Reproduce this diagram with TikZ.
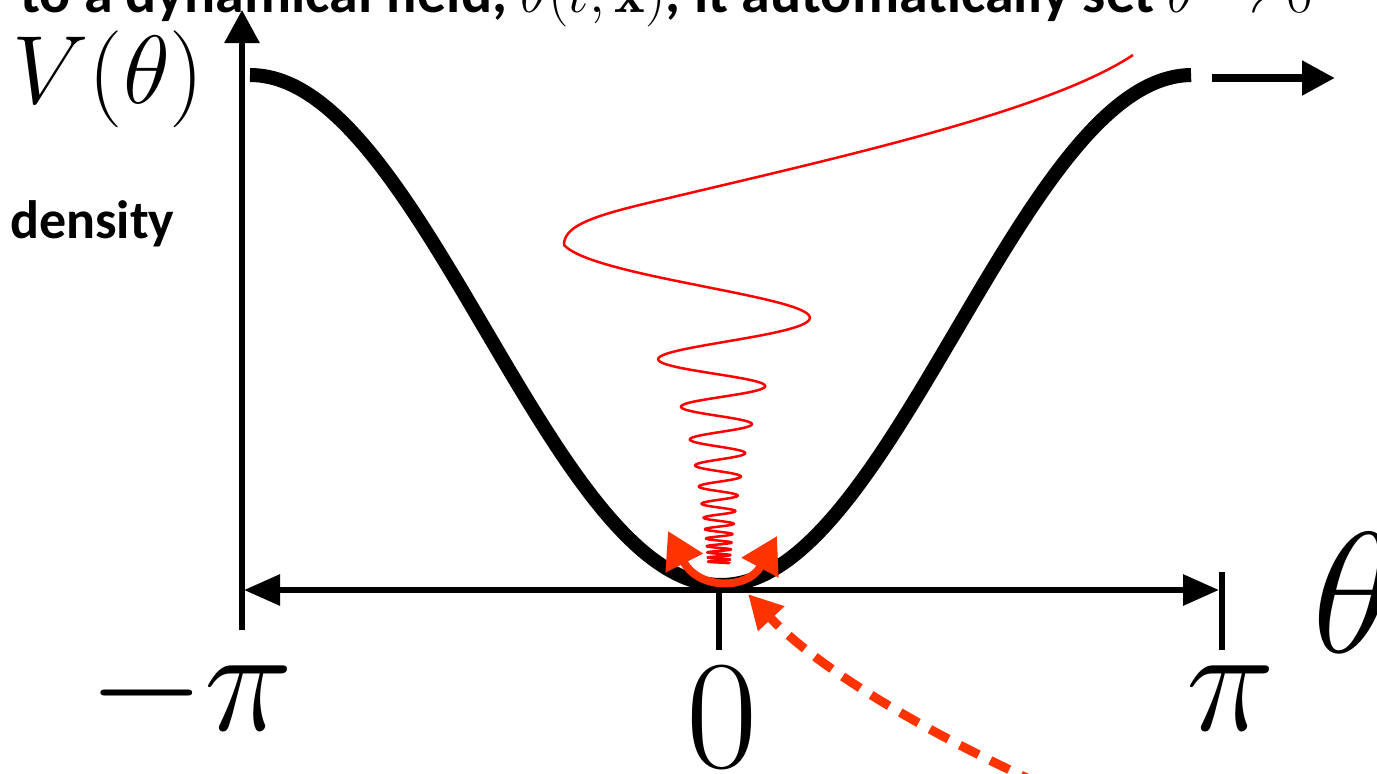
\RequirePackage{fix-cm}
\documentclass[tikz,border=0pt]{standalone}
\usepackage{fontspec}
\newfontfamily\calib{Carlito}
\usetikzlibrary{arrows.meta}
\definecolor{wavered}{RGB}{255,0,0}
\definecolor{arrred}{RGB}{255,51,0}
\tikzset{
  axisline/.style={line width=6pt, black},
  potcurve/.style={line width=14pt, black},
  wavestyle/.style={line width=2.5pt, wavered, line join=round},
  orarrow/.style={arrred, line width=8pt},
  lbl/.style={inner sep=0pt, anchor=base west},
}
\begin{document}
\begin{tikzpicture}[x=1pt,y=-1pt]
\useasboundingbox (0,0) rectangle (1377,774);
\clip (0,0) rectangle (1377,774);

% cut-off heading line
\node[lbl, font=\calib\bfseries\fontsize{58}{60}\selectfont] (topline) at (20,12)
  {to a dynamical field, $\theta(t,\mathbf{x})$, it automatically set $\theta\to0$};

% coordinates
\coordinate (yB) at (242,630);
\coordinate (yT) at (242,10);
\coordinate (xL) at (244,590);
\coordinate (xR) at (1219,590);
\coordinate (tk0a) at (719,590);
\coordinate (tk0b) at (719,650);
\coordinate (tkRa) at (1222,572);
\coordinate (tkRb) at (1222,650);
\coordinate (rA) at (1212,78);
\coordinate (rB) at (1335,78);
\coordinate (arL) at (668,531);
\coordinate (arR) at (777,536);
\coordinate (dashS) at (1040,784);
\coordinate (minPt) at (748,594);
\coordinate (wTop) at (1133,55);
\coordinate (wJ) at (673,197);
\coordinate (wT) at (564,245);

% potential
\draw[potcurve] plot[domain=-1:1, samples=200, variable=\t]
  ({721+471*\t},{75+255*(1+cos(180*\t))});

% axes
\draw[axisline, -{Triangle[length=33pt,width=34pt]}] (yB) -- (yT);
\draw[axisline, {Triangle[length=36pt,width=30pt]}-{Triangle[length=36pt,width=30pt]}] (xL) -- (xR);
\draw[axisline] (tk0a) -- (tk0b);
\draw[axisline] (tkRa) -- (tkRb);

% top right arrow
\draw[line width=8pt, -{Triangle[length=33pt,width=33pt]}] (rA) -- (rB);

% double arrow at the minimum
\draw[orarrow, {Triangle[length=36pt,width=40pt]}-{Triangle[length=36pt,width=40pt]}]
  (arL) .. controls (698,590) and (748,590) .. (arR);

% oscillating field
\draw[wavestyle] (wTop) .. controls (1050,110) and (850,155) .. (wJ)
  .. controls (610,212) and (563,222) .. (wT)
  -- plot[domain=0:27, samples=1800, variable=\n]
  ({719-(10+47*exp(-\n/6.5)+98*exp(-\n/1.1))*cos(180*\n)},
   {580-(258*exp(-0.1016*\n)+77*exp(-\n/0.94))});

% dashed pointer
\draw[orarrow, line width=9pt, dash pattern=on 21pt off 13pt, -{Triangle[length=34pt,width=34pt]}]
  (dashS) .. controls (900,720) and (810,660) .. (minPt);

% labels
\node[lbl, font=\fontsize{97}{100}\selectfont] (vlab) at (12,103) {$V(\theta)$};
\node[lbl, font=\calib\bfseries\fontsize{54}{56}\selectfont] (dens) at (10,238) {density};
\node[lbl, font=\fontsize{150}{150}\selectfont] (mpi) at (88,730) {$-\pi$};
\node[anchor=base, inner sep=0pt, font=\fontsize{155}{155}\selectfont] (zero) at (722,767) {$0$};
\node[lbl, font=\fontsize{150}{150}\selectfont] (ppi) at (1186,730) {$\pi$};
\node[lbl, font=\fontsize{172}{172}\selectfont] (thlab) at (1312,652) {$\theta$};
\end{tikzpicture}
\end{document}
